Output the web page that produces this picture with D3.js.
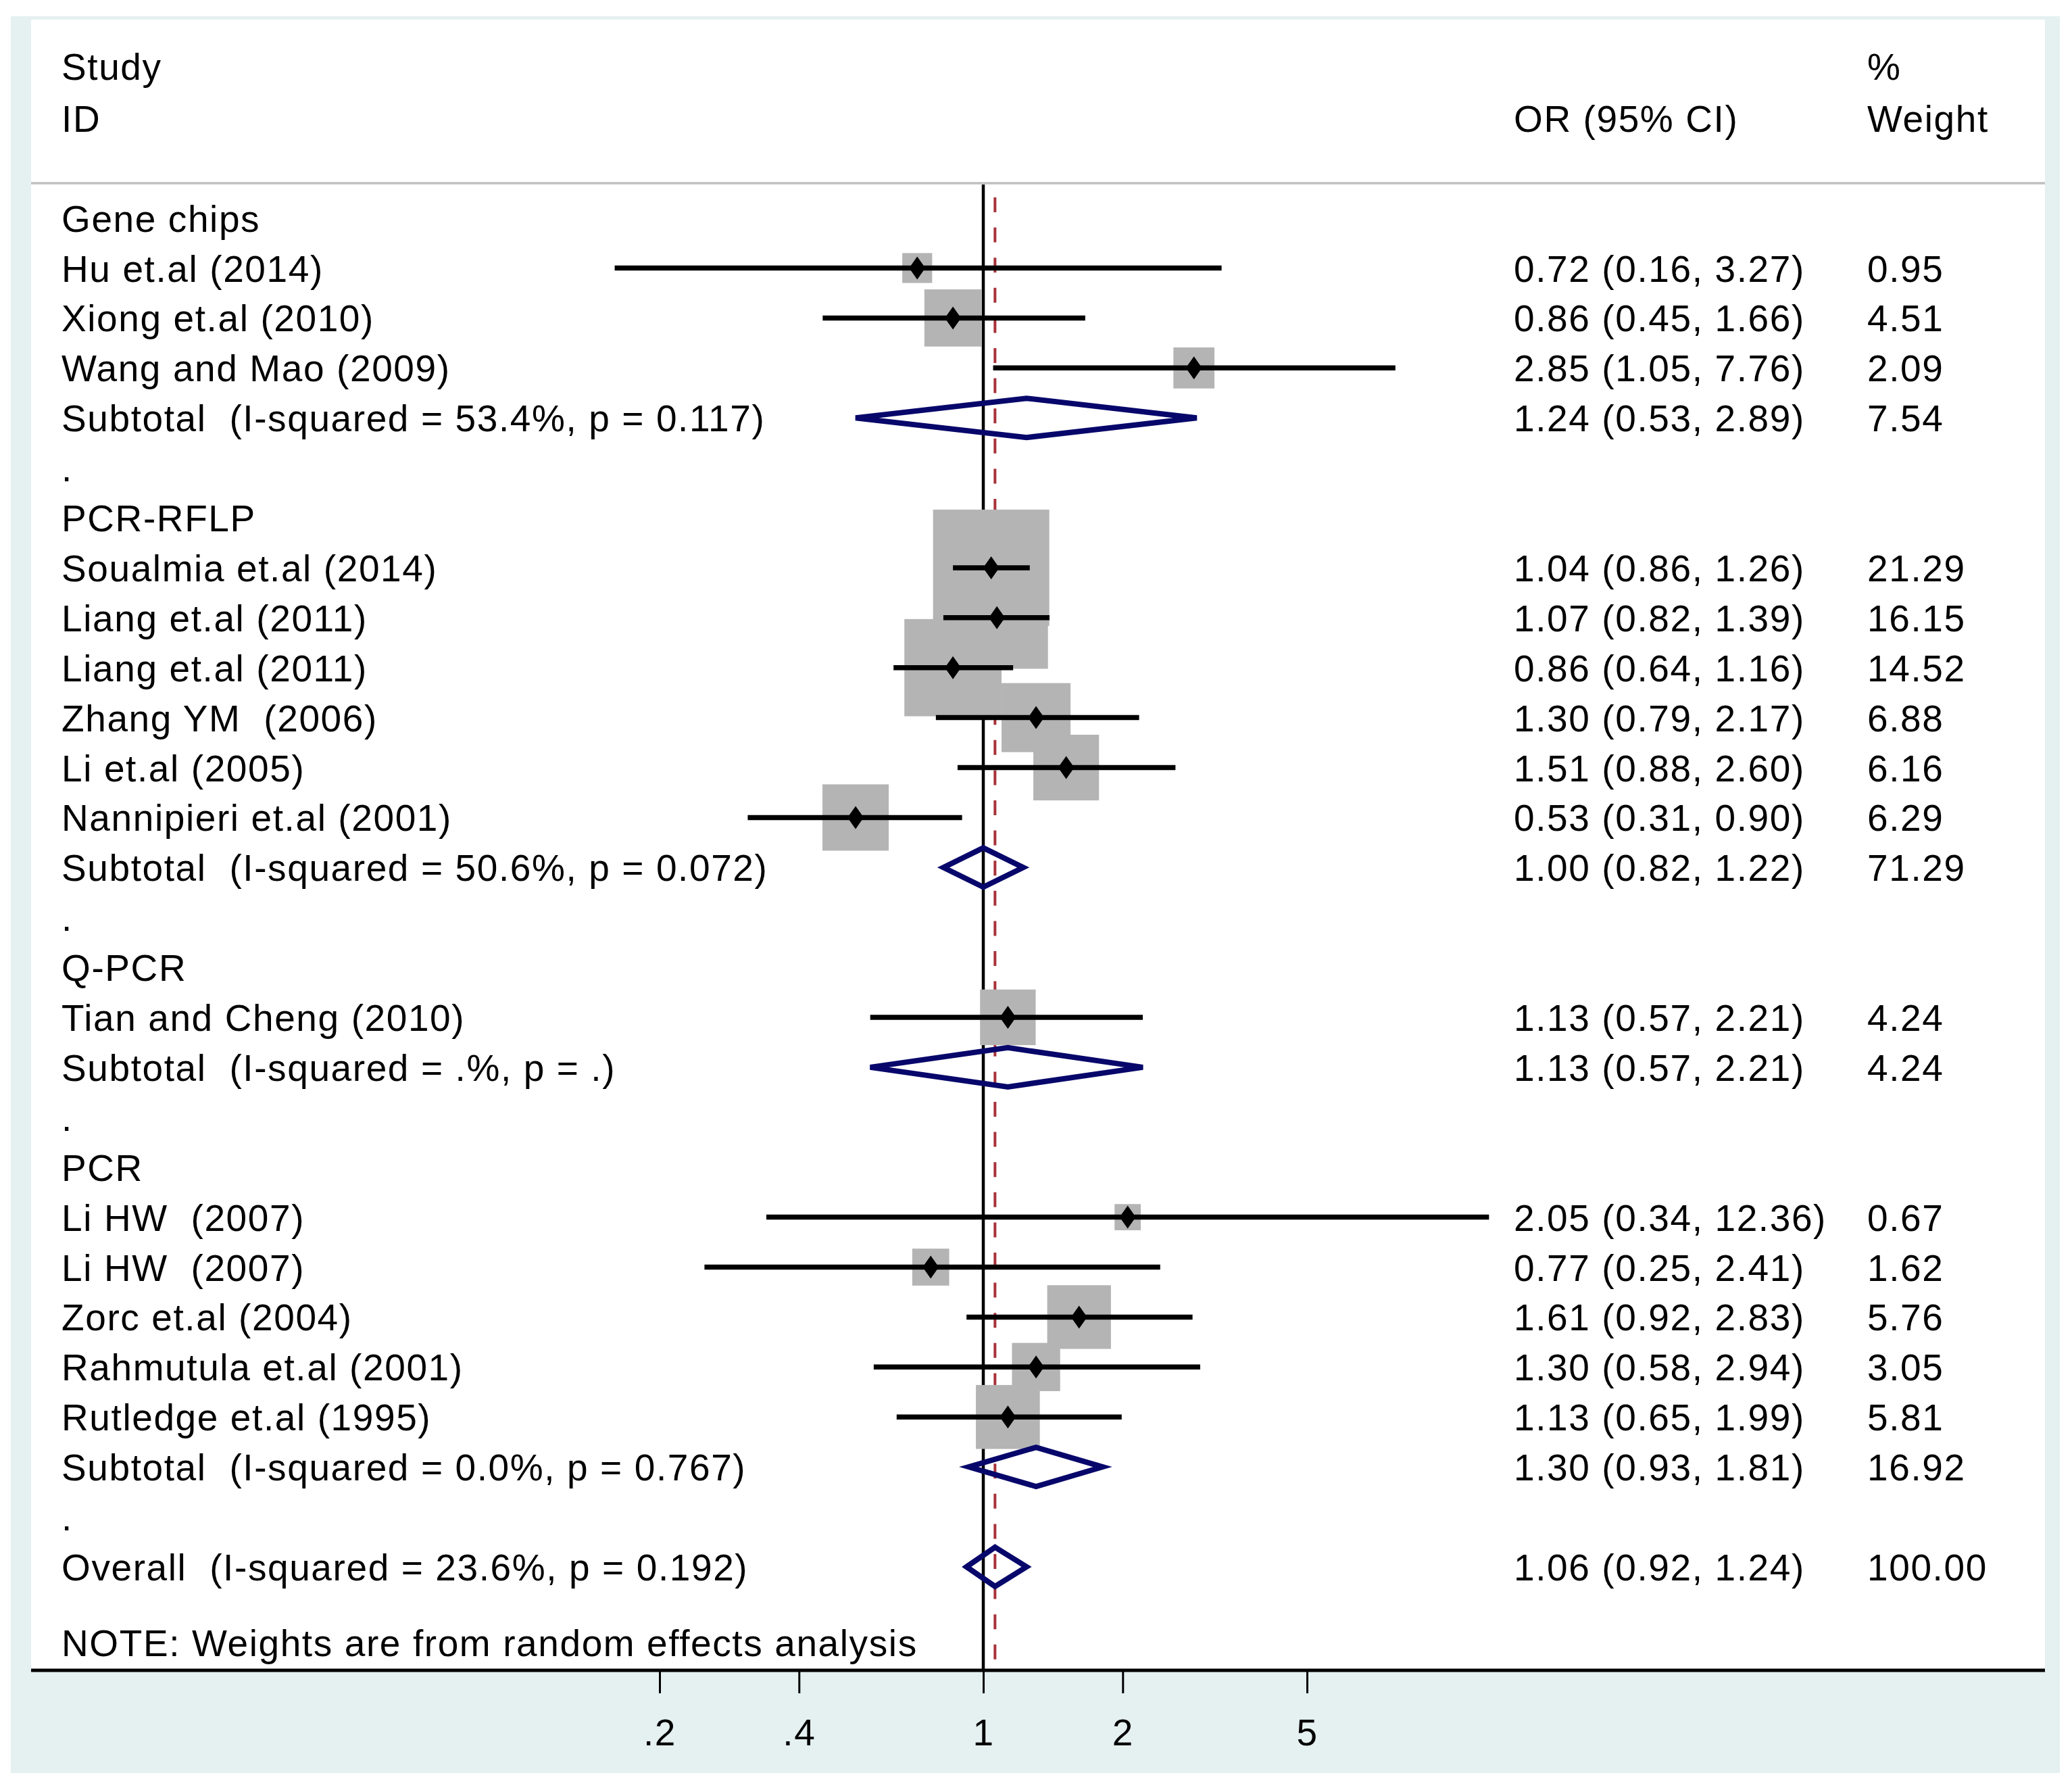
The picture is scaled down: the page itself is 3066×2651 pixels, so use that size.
<!DOCTYPE html>
<html>
<head>
<meta charset="utf-8">
<script src="https://cdn.jsdelivr.net/npm/d3@7"></script>
<style>
  html, body { margin: 0; padding: 0; background: #ffffff; }
  svg { display: block; }
  text { font-family: "Liberation Sans", Arial, sans-serif; fill: #000; letter-spacing: 1.6px; }
</style>
</head>
<body>
<svg id="chart" width="3066" height="2651"></svg>
<script>
// ---------------- data ----------------
const rowLabels = [
  "Gene chips",
  "Hu et.al (2014)",
  "Xiong et.al (2010)",
  "Wang and Mao (2009)",
  "Subtotal  (I-squared = 53.4%, p = 0.117)",
  ".",
  "PCR-RFLP",
  "Soualmia et.al (2014)",
  "Liang et.al (2011)",
  "Liang et.al (2011)",
  "Zhang YM  (2006)",
  "Li et.al (2005)",
  "Nannipieri et.al (2001)",
  "Subtotal  (I-squared = 50.6%, p = 0.072)",
  ".",
  "Q-PCR",
  "Tian and Cheng (2010)",
  "Subtotal  (I-squared = .%, p = .)",
  ".",
  "PCR",
  "Li HW  (2007)",
  "Li HW  (2007)",
  "Zorc et.al (2004)",
  "Rahmutula et.al (2001)",
  "Rutledge et.al (1995)",
  "Subtotal  (I-squared = 0.0%, p = 0.767)",
  ".",
  "Overall  (I-squared = 23.6%, p = 0.192)"
];
const rowTypes = [
  "group","study","study","study","subtotal","spacer",
  "group","study","study","study","study","study","study","subtotal","spacer",
  "group","study","subtotal","spacer",
  "group","study","study","study","study","study","subtotal","spacer",
  "overall"
];
const orValues = [null,0.72,0.86,2.85,1.24,null, null,1.04,1.07,0.86,1.30,1.51,0.53,1.00,null, null,1.13,1.13,null, null,2.05,0.77,1.61,1.30,1.13,1.30,null, 1.06];
const ciLower  = [null,0.16,0.45,1.05,0.53,null, null,0.86,0.82,0.64,0.79,0.88,0.31,0.82,null, null,0.57,0.57,null, null,0.34,0.25,0.92,0.58,0.65,0.93,null, 0.92];
const ciUpper  = [null,3.27,1.66,7.76,2.89,null, null,1.26,1.39,1.16,2.17,2.60,0.90,1.22,null, null,2.21,2.21,null, null,12.36,2.41,2.83,2.94,1.99,1.81,null, 1.24];
const weights  = [null,0.95,4.51,2.09,7.54,null, null,21.29,16.15,14.52,6.88,6.16,6.29,71.29,null, null,4.24,4.24,null, null,0.67,1.62,5.76,3.05,5.81,16.92,null, 100.00];
const overallOR = 1.06;
const tickValues = [0.2, 0.4, 1, 2, 5];
const tickLabels = [".2", ".4", "1", "2", "5"];
const headerLeft = ["Study", "ID"];
const headerOR = "OR (95% CI)";
const headerWeight = ["%", "Weight"];
const noteText = "NOTE: Weights are from random effects analysis";

// ---------------- layout ----------------
const FS = 55;
const svg = d3.select("#chart");
const panel = { x0: 46, x1: 3026, y0: 29, y1: 2471 };
const xLeftText = 91, xOR = 2240, xW = 2763;

const x = d3.scaleLog().domain([0.2, 5]).range([976, 1934]);
const y = d3.scaleLinear().domain([0, 27]).range([322.6, 322.6 + 73.9 * 27]);
const boxSize = d3.scaleSqrt().domain([0, 21.29]).range([10, 172]);
const f2 = d3.format(".2f");

// backgrounds
svg.append("rect").attr("x", 0).attr("y", 0).attr("width", 3066).attr("height", 2651).attr("fill", "#ffffff");
svg.append("rect").attr("x", 16).attr("y", 24).attr("width", 3048 - 16).attr("height", 2623 - 24).attr("fill", "#e5f0f0");
svg.append("rect").attr("x", panel.x0).attr("y", panel.y0).attr("width", panel.x1 - panel.x0).attr("height", panel.y1 - panel.y0).attr("fill", "#ffffff");

// header separator
svg.append("line").attr("x1", panel.x0).attr("x2", panel.x1).attr("y1", 271).attr("y2", 271)
  .attr("stroke", "#c0c0c0").attr("stroke-width", 3.5);

// header texts
const hdr = svg.append("g").attr("font-size", FS);
hdr.append("text").attr("x", xLeftText).attr("y", 118).text(headerLeft[0]);
hdr.append("text").attr("x", xLeftText).attr("y", 195).text(headerLeft[1]);
hdr.append("text").attr("x", xOR).attr("y", 195).text(headerOR);
hdr.append("text").attr("x", xW).attr("y", 118).text(headerWeight[0]);
hdr.append("text").attr("x", xW).attr("y", 195).text(headerWeight[1]);

// null line and overall dashed line
svg.append("line").attr("x1", x(1)).attr("x2", x(1)).attr("y1", 273).attr("y2", panel.y1)
  .attr("stroke", "#000").attr("stroke-width", 4.5);
svg.append("line").attr("x1", x(overallOR)).attr("x2", x(overallOR)).attr("y1", 292).attr("y2", panel.y1)
  .attr("stroke", "#a8323a").attr("stroke-width", 4).attr("stroke-dasharray", "22 22.6");

const rows = rowLabels.map((lab, i) => ({
  i, lab, type: rowTypes[i], or: orValues[i], lo: ciLower[i], hi: ciUpper[i], w: weights[i]
}));
const studies = rows.filter(d => d.type === "study");
const pooled = rows.filter(d => d.type === "subtotal" || d.type === "overall");

// boxes
svg.append("g").selectAll("rect").data(studies).join("rect")
  .attr("x", d => x(d.or) - boxSize(d.w) / 2)
  .attr("y", d => y(d.i) - boxSize(d.w) / 2)
  .attr("width", d => boxSize(d.w))
  .attr("height", d => boxSize(d.w))
  .attr("fill", "#b4b4b4");

// CI lines
svg.append("g").selectAll("line").data(studies).join("line")
  .attr("x1", d => x(d.lo)).attr("x2", d => x(d.hi))
  .attr("y1", d => y(d.i)).attr("y2", d => y(d.i))
  .attr("stroke", "#000").attr("stroke-width", 7.5);

// point markers (small diamonds)
svg.append("g").selectAll("path").data(studies).join("path")
  .attr("d", d => {
    const cx = x(d.or), cy = y(d.i);
    return `M${cx},${cy - 17}L${cx + 12},${cy}L${cx},${cy + 17}L${cx - 12},${cy}Z`;
  })
  .attr("fill", "#000");

// pooled diamonds
svg.append("g").selectAll("path").data(pooled).join("path")
  .attr("d", d => {
    const cy = y(d.i);
    return `M${x(d.lo)},${cy}L${x(d.or)},${cy - 29}L${x(d.hi)},${cy}L${x(d.or)},${cy + 29}Z`;
  })
  .attr("fill", "none").attr("stroke", "#07076b").attr("stroke-width", 8).attr("stroke-linejoin", "miter");

// left labels
const txt = svg.append("g").attr("font-size", FS);
txt.selectAll("text.lab").data(rows).join("text")
  .attr("class", "lab")
  .attr("x", xLeftText).attr("y", d => y(d.i) + 20)
  .style("white-space", "pre")
  .text(d => d.lab);

// OR (95% CI) column
const withStats = rows.filter(d => d.or !== null);
txt.selectAll("text.ci").data(withStats).join("text")
  .attr("class", "ci")
  .attr("x", xOR).attr("y", d => y(d.i) + 20)
  .text(d => `${f2(d.or)} (${f2(d.lo)}, ${f2(d.hi)})`);
txt.selectAll("text.wt").data(withStats).join("text")
  .attr("class", "wt")
  .attr("x", xW).attr("y", d => y(d.i) + 20)
  .text(d => f2(d.w));

// note
txt.append("text").attr("x", xLeftText).attr("y", 2450).text(noteText);

// axis
const axis = d3.axisBottom(x).tickValues(tickValues)
  .tickFormat((d, i) => tickLabels[i]).tickSize(34).tickPadding(38);
const ax = svg.append("g").attr("transform", `translate(0,${panel.y1})`).call(axis);
ax.select(".domain").remove();
ax.selectAll(".tick line").attr("stroke", "#000").attr("stroke-width", 3);
ax.selectAll(".tick text").attr("font-size", FS)
  .attr("font-family", '"Liberation Sans", Arial, sans-serif').attr("fill", "#000");
svg.append("line").attr("x1", panel.x0).attr("x2", panel.x1).attr("y1", panel.y1).attr("y2", panel.y1)
  .attr("stroke", "#000").attr("stroke-width", 5);
</script>
</body>
</html>
